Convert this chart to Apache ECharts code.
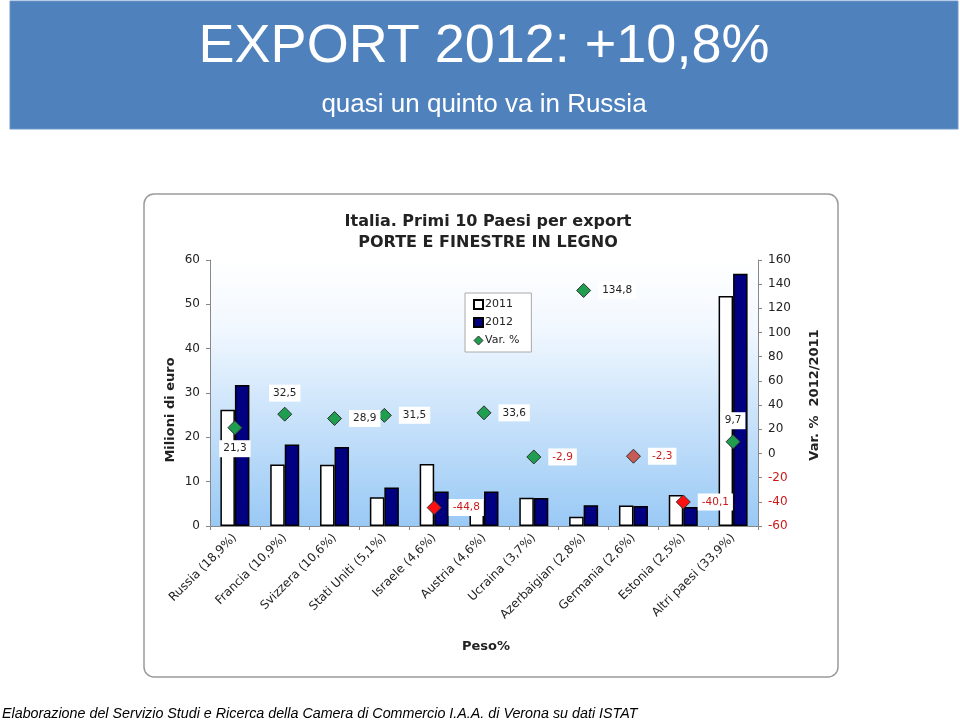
<!DOCTYPE html>
<html>
<head>
<meta charset="utf-8">
<script src="https://cdn.jsdelivr.net/npm/echarts@6/dist/echarts.min.js"></script>
<style>
html,body{margin:0;padding:0;background:#fff;}
#c{width:960px;height:723px;}
</style>
</head>
<body>
<div id="c"></div>
<script>
// ---- data ----
var categories = ['Russia (18,9%)', 'Francia (10,9%)', 'Svizzera (10,6%)', 'Stati Uniti (5,1%)', 'Israele (4,6%)', 'Austria (4,6%)', 'Ucraina (3,7%)', 'Azerbaigian (2,8%)', 'Germania (2,6%)', 'Estonia (2,5%)', 'Altri paesi (33,9%)'];
var values2011 = [26.2, 13.9, 13.8, 6.5, 14.0, 5.8, 6.4, 2.1, 4.6, 7.0, 51.9];
var values2012 = [31.8, 18.4, 17.8, 8.7, 7.8, 7.8, 6.3, 4.7, 4.5, 4.3, 56.9];
var varPct = [21.3, 32.5, 28.9, 31.5, -44.8, 33.6, -2.9, 134.8, -2.3, -40.1, 9.7];
var leftTicks = {min: 0, max: 60, interval: 10};
var rightTicks = {min: -60, max: 160, interval: 20};

// ---- styles ----
var markerColors = ['#1E9E4E','#1E9E4E','#1E9E4E','#1E9E4E','#FF1010','#1E9E4E','#1E9E4E','#1E9E4E','#C85A55','#FF1010','#1E9E4E'];
var labelPos = ['bottom','top','right','right','right','right','right','right','right','right','top'];
var FONT = 'DejaVu Sans, Verdana, sans-serif';

function fmt(v){ return v.toFixed(1).replace('.', ','); }

var scatterData = varPct.map(function(v, i){
  return {
    value: v,
    itemStyle: {color: markerColors[i], opacity: 1},
    label: {
      position: labelPos[i],
      distance: labelPos[i] === 'right' ? 7 : 5,
      color: v < 0 ? '#CC1A1A' : '#222'
    }
  };
});

var chart = echarts.init(document.getElementById('c'), null, {renderer: 'canvas'});
chart.setOption({
  backgroundColor: '#ffffff',
  animation: false,
  graphic: [
    {type: 'rect', shape: {x: 10, y: 1, width: 948, height: 128}, style: {fill: '#4F81BD', stroke: '#6F96C8', lineWidth: 1}, z: 0},
    {type: 'text', x: 484, y: 47, style: {text: 'EXPORT 2012: +10,8%', fill: '#ffffff', font: '54px Liberation Sans, Arial, sans-serif', textAlign: 'center', textVerticalAlign: 'middle'}, z: 1},
    {type: 'text', x: 484, y: 105, style: {text: 'quasi un quinto va in Russia', fill: '#ffffff', font: '26px Liberation Sans, Arial, sans-serif', textAlign: 'center', textVerticalAlign: 'middle'}, z: 1},
    {type: 'rect', shape: {x: 144, y: 194, width: 694, height: 483, r: 10}, style: {fill: 'none', stroke: '#9a9a9a', lineWidth: 1.5}, z: 0},
    {type: 'text', x: 488, y: 222, style: {text: 'Italia. Primi 10 Paesi per export', fill: '#222', font: 'bold 16px ' + FONT, textAlign: 'center', textVerticalAlign: 'middle'}, z: 1},
    {type: 'text', x: 488, y: 243, style: {text: 'PORTE E FINESTRE IN LEGNO', fill: '#222', font: 'bold 16px ' + FONT, textAlign: 'center', textVerticalAlign: 'middle'}, z: 1},
    {type: 'text', x: 171, y: 410, rotation: Math.PI/2, style: {text: 'Milioni di euro', fill: '#222', font: 'bold 13px ' + FONT, textAlign: 'center', textVerticalAlign: 'middle'}, z: 1},
    {type: 'text', x: 815, y: 395, rotation: Math.PI/2, style: {text: 'Var. %  2012/2011', fill: '#222', font: 'bold 13px ' + FONT, textAlign: 'center', textVerticalAlign: 'middle'}, z: 1},
    {type: 'text', x: 486, y: 647, style: {text: 'Peso%', fill: '#222', font: 'bold 13px ' + FONT, textAlign: 'center', textVerticalAlign: 'middle'}, z: 1},
    {type: 'text', x: 2, y: 714, style: {text: 'Elaborazione del Servizio Studi e Ricerca della Camera di Commercio I.A.A. di Verona su dati ISTAT', fill: '#000', font: 'italic 14.3px Liberation Sans, Arial, sans-serif', textAlign: 'left', textVerticalAlign: 'middle'}, z: 1}
  ],
  legend: {
    orient: 'vertical',
    left: 465, top: 293,
    padding: [6, 12, 6, 8],
    itemGap: 7,
    itemWidth: 9, itemHeight: 9,
    backgroundColor: '#ffffff',
    borderColor: '#aaaaaa', borderWidth: 1,
    textStyle: {fontFamily: FONT, fontSize: 11, color: '#222', padding: [0,0,0,-3]},
    data: [
      {name: '2011', icon: 'rect'},
      {name: '2012', icon: 'rect'},
      {name: 'Var. %', icon: 'diamond', itemStyle: {color: '#1E9E4E', borderColor: '#333', borderWidth: 1, opacity: 1}}
    ]
  },
  grid: {
    left: 210, right: 202, top: 260, height: 266,
    show: true, borderWidth: 0,
    backgroundColor: {type: 'linear', x: 0, y: 0, x2: 0, y2: 1, colorStops: [
      {offset: 0, color: '#ffffff'}, {offset: 0.25, color: '#f2f8ff'}, {offset: 1, color: '#99C9F5'}
    ]}
  },
  xAxis: {
    type: 'category',
    data: categories,
    axisLine: {lineStyle: {color: '#888', width: 1}},
    axisTick: {show: true, length: 4, lineStyle: {color: '#888'}},
    axisLabel: {rotate: 45, interval: 0, margin: 10, fontFamily: FONT, fontSize: 12, color: '#222'},
    splitLine: {show: false}
  },
  yAxis: [
    {
      type: 'value', min: leftTicks.min, max: leftTicks.max, interval: leftTicks.interval,
      axisLine: {show: true, lineStyle: {color: '#888'}},
      axisTick: {show: true, length: 4, lineStyle: {color: '#888'}},
      axisLabel: {margin: 10, fontFamily: FONT, fontSize: 12, color: '#222'},
      splitLine: {show: false}
    },
    {
      type: 'value', min: rightTicks.min, max: rightTicks.max, interval: rightTicks.interval,
      position: 'right',
      axisLine: {show: true, lineStyle: {color: '#888'}},
      axisTick: {show: true, length: 4, lineStyle: {color: '#888'}},
      axisLabel: {
        margin: 10, fontFamily: FONT, fontSize: 12,
        formatter: function(v){ return v < 0 ? '{n|' + v + '}' : '{p|' + v + '}'; },
        rich: {n: {color: '#CC1A1A', fontFamily: FONT, fontSize: 12}, p: {color: '#222', fontFamily: FONT, fontSize: 12}}
      },
      splitLine: {show: false}
    }
  ],
  series: [
    {
      name: '2011', type: 'bar', yAxisIndex: 0, data: values2011,
      barWidth: 14.5, barGap: '0%',
      itemStyle: {color: '#ffffff', borderColor: '#000', borderWidth: 1.5}
    },
    {
      name: '2012', type: 'bar', yAxisIndex: 0, data: values2012,
      barWidth: 14.5, barGap: '0%',
      itemStyle: {color: '#000080', borderColor: '#000', borderWidth: 1.5}
    },
    {
      name: 'Var. %', type: 'scatter', yAxisIndex: 1, data: scatterData,
      symbol: 'diamond', symbolSize: 14, z: 5,
      itemStyle: {color: '#1E9E4E', borderColor: '#333', borderWidth: 1, opacity: 1},
      label: {
        show: true,
        formatter: function(p){ return fmt(p.value); },
        backgroundColor: '#ffffff',
        padding: [3, 4, 3, 4],
        fontFamily: FONT, fontSize: 10.5,
        color: '#222'
      }
    }
  ]
});
</script>
</body>
</html>
